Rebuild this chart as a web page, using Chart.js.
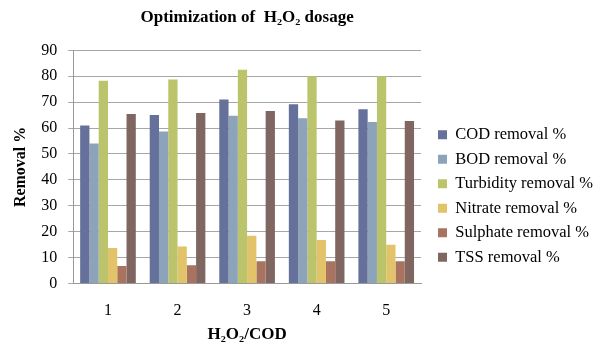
<!DOCTYPE html>
<html>
<head>
<meta charset="utf-8">
<script src="https://cdn.jsdelivr.net/npm/chart.js@4"></script>
<style>
  body { margin: 0; background: #fff; }
</style>
</head>
<body>
<canvas id="chart" width="595" height="344"></canvas>
<script>
const categories = ['1', '2', '3', '4', '5'];
const codRemoval = [61, 65, 71, 69.2, 67.3];
const bodRemoval = [54, 58.7, 64.8, 63.8, 62.3];
const turbidityRemoval = [78.3, 78.8, 82.5, 80, 80];
const nitrateRemoval = [13.7, 14.3, 18.4, 16.8, 14.9];
const sulphateRemoval = [6.7, 7, 8.6, 8.6, 8.6];
const tssRemoval = [65.4, 65.8, 66.6, 62.9, 62.7];
const yTicks = [0, 10, 20, 30, 40, 50, 60, 70, 80, 90];

Chart.defaults.font.family = "'Liberation Serif', 'Times New Roman', serif";
Chart.defaults.color = '#000';

// legend sits in a fixed-width column, nudged right and down like the original
const legendPlace = {
  id: 'legendPlace',
  beforeInit(chart) {
    const fit = chart.legend.fit;
    chart.legend.fit = function () {
      fit.call(this);
      this.width = 170;
    };
  },
  afterLayout(chart) {
    chart.legend.left += 9;
    chart.legend.right += 9;
    chart.legend.top += 24;
    chart.legend.bottom += 24;
  }
};

new Chart(document.getElementById('chart').getContext('2d'), {
  type: 'bar',
  data: {
    labels: categories,
    datasets: [
      { label: 'COD removal %', data: codRemoval, backgroundColor: '#65709B' },
      { label: 'BOD removal %', data: bodRemoval, backgroundColor: '#8CA3B9' },
      { label: 'Turbidity removal %', data: turbidityRemoval, backgroundColor: '#BBC46B' },
      { label: 'Nitrate removal %', data: nitrateRemoval, backgroundColor: '#E2C36A' },
      { label: 'Sulphate removal %', data: sulphateRemoval, backgroundColor: '#A8735F' },
      { label: 'TSS removal %', data: tssRemoval, backgroundColor: '#806660' }
    ]
  },
  plugins: [legendPlace],
  options: {
    responsive: false,
    animation: false,
    layout: { padding: { left: 7, right: 4, top: 0, bottom: 0 } },
    datasets: {
      bar: { categoryPercentage: 0.8, barPercentage: 1.0 }
    },
    plugins: {
      title: {
        display: true,
        text: 'Optimization of  H₂O₂ dosage',
        fullSize: false,
        font: { size: 17, weight: 'bold' },
        padding: { top: 7, bottom: 23 }
      },
      legend: {
        position: 'right',
        labels: {
          boxWidth: 9,
          boxHeight: 9,
          padding: 8,
          font: { size: 16.5 }
        }
      },
      tooltip: { enabled: false }
    },
    scales: {
      x: {
        grid: { display: false, drawTicks: false },
        border: { color: '#999' },
        ticks: { font: { size: 16 }, padding: 18 },
        title: {
          display: true,
          text: 'H₂O₂/COD',
          font: { size: 17, weight: 'bold' },
          padding: { top: -14, bottom: -1 }
        }
      },
      y: {
        min: 0,
        max: 90,
        afterBuildTicks: axis => { axis.ticks = yTicks.map(v => ({ value: v })); },
        grid: { color: '#A6A6A6', tickLength: 5 },
        border: { color: '#999' },
        ticks: { font: { size: 16 }, padding: 11 },
        title: {
          display: true,
          text: 'Removal %',
          font: { size: 16, weight: 'bold' },
          padding: { bottom: 0 }
        }
      }
    }
  }
});
</script>
</body>
</html>
